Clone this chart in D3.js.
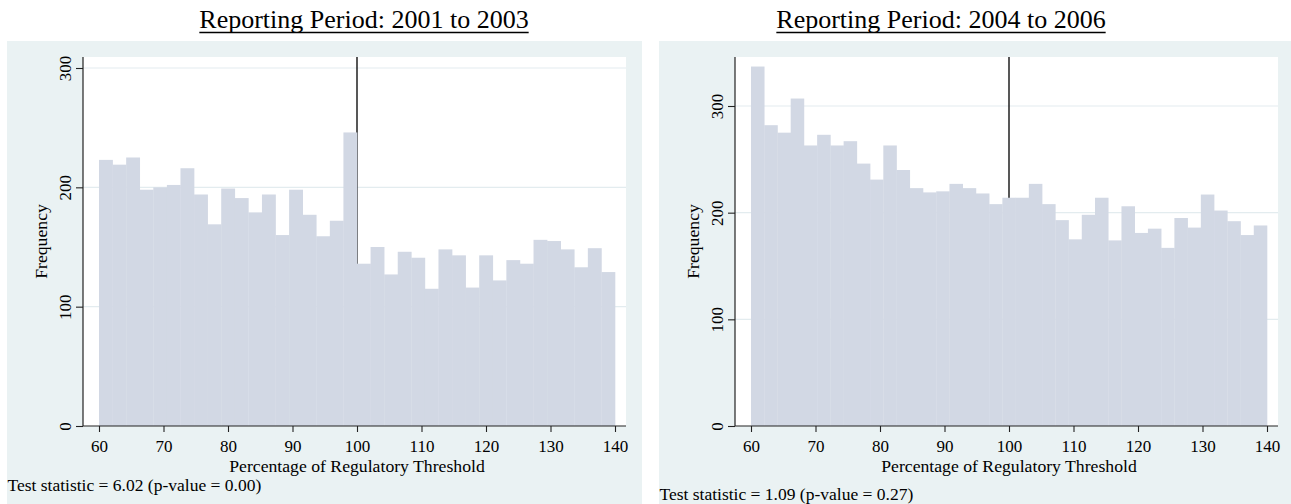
<!DOCTYPE html>
<html>
<head>
<meta charset="utf-8">
<script src="https://cdn.jsdelivr.net/npm/d3@7"></script>
<style>
  body { margin: 0; background: #fff; }
  text { font-family: "Liberation Serif", "Times New Roman", serif; fill: #000; }
</style>
</head>
<body>
<script>
// Width and height
var w = 1291;
var h = 504;

// histogram counts (38 bins / 39 bins over 60..140)
var counts0103 = [223, 219, 225, 198, 200, 202, 216, 194, 169, 199, 191, 179, 194, 160, 198, 177, 159, 172, 246,
                  136, 150, 127, 146, 141, 115, 148, 143, 116, 143, 122, 139, 136, 156, 155, 148, 133, 149, 129];
var counts0406 = [337, 282, 275, 307, 263, 273, 263, 267, 246, 231, 263, 240, 223, 219, 220, 227, 223, 218, 208,
                  214, 214, 227, 208, 193, 175, 198, 214, 174, 206, 181, 185, 167, 195, 186, 217, 202, 192, 179, 188];

var xTicks = [60, 70, 80, 90, 100, 110, 120, 130, 140];
var yTicks = [0, 100, 200, 300];
var threshold = 100;

var titles = ["Reporting Period: 2001 to 2003", "Reporting Period: 2004 to 2006"];
var notes = ["Test statistic = 6.02 (p-value = 0.00)", "Test statistic = 1.09 (p-value = 0.27)"];
var yLabel = "Frequency";
var xLabel = "Percentage of Regulatory Threshold";

var svg = d3.select("body")
            .append("svg")
            .attr("width", w)
            .attr("height", h);

function drawPanel(dx, counts, yTop300, title, titleX, note, noteY) {
    var g = svg.append("g").attr("transform", "translate(" + dx + ",0)");

    // graph region
    g.append("rect")
        .attr("x", 7).attr("y", 41)
        .attr("width", 635).attr("height", h - 41)
        .attr("fill", "#eaf2f3");

    // plot region
    var left = 83, right = 626, top = 57, bottom = 426;
    g.append("rect")
        .attr("x", left).attr("y", top)
        .attr("width", right - left).attr("height", bottom - top)
        .attr("fill", "#fff");

    var x = d3.scaleLinear().domain([60, 140]).range([99, 615]);
    var y = d3.scaleLinear().domain([0, 300]).range([bottom, yTop300]);

    // grid lines
    g.append("g").selectAll("line")
        .data(yTicks.filter(function(d) { return d > 0; }))
        .enter().append("line")
        .attr("x1", left).attr("x2", right)
        .attr("y1", function(d) { return y(d); })
        .attr("y2", function(d) { return y(d); })
        .attr("stroke", "#e3ecef")
        .attr("stroke-width", 1.2);

    // threshold line (bars sit on top of it)
    g.append("line")
        .attr("x1", x(threshold)).attr("x2", x(threshold))
        .attr("y1", top).attr("y2", bottom)
        .attr("stroke", "#111")
        .attr("stroke-width", 1.4);

    var bw = 80 / counts.length;
    g.append("g").selectAll("rect")
        .data(counts)
        .enter().append("rect")
        .attr("x", function(d, i) { return x(60 + i * bw); })
        .attr("width", function(d, i) { return x(60 + (i + 1) * bw) - x(60 + i * bw) + 0.3; })
        .attr("y", function(d) { return y(d); })
        .attr("height", function(d) { return y(0) - y(d); })
        .attr("fill", "#d2d8e4");

    // axes
    var xAxis = d3.axisBottom(x).tickValues(xTicks).tickSize(6).tickPadding(7.5);
    var xg = g.append("g").attr("transform", "translate(0," + bottom + ")").call(xAxis);
    xg.select(".domain").attr("d", "M" + left + ",0H" + right);
    var yAxis = d3.axisLeft(y).tickValues(yTicks).tickSize(7).tickPadding(5);
    var yg = g.append("g").attr("transform", "translate(" + left + ",0)").call(yAxis);
    yg.select(".domain").attr("d", "M0," + top + "V" + bottom);

    [xg, yg].forEach(function(a) {
        a.selectAll(".domain").attr("stroke", "#222").attr("stroke-width", 1.2);
        a.selectAll(".tick line").attr("stroke", "#222").attr("stroke-width", 1.1);
        a.selectAll("text").style("font-family", "Liberation Serif").style("font-size", "17px").attr("fill", "#000");
    });
    yg.selectAll(".tick text")
        .attr("x", null).attr("dy", null)
        .attr("text-anchor", "middle")
        .attr("transform", "translate(-12.5,0) rotate(-90)");

    // axis titles
    g.append("text")
        .attr("x", (99 + 615) / 2).attr("y", 471.5)
        .attr("text-anchor", "middle")
        .style("font-size", "17.7px")
        .text(xLabel);
    g.append("text")
        .attr("transform", "translate(47," + ((top + bottom) / 2) + ") rotate(-90)")
        .attr("text-anchor", "middle")
        .style("font-size", "17.7px")
        .text(yLabel);

    // note
    g.append("text")
        .attr("x", 7.5).attr("y", noteY)
        .style("font-size", "17.5px")
        .text(note);

    // title, underlined
    var t = svg.append("text")
        .attr("x", titleX).attr("y", 28.3)
        .attr("text-anchor", "middle")
        .style("font-size", "26px")
        .text(title);
    var bb = t.node().getBBox();
    svg.append("line")
        .attr("x1", bb.x).attr("x2", bb.x + bb.width)
        .attr("y1", 32.5).attr("y2", 32.5)
        .attr("stroke", "#000").attr("stroke-width", 1.4);
}

drawPanel(0, counts0103, 68, titles[0], 364, notes[0], 490.5);
drawPanel(652, counts0406, 106, titles[1], 941, notes[1], 500);
</script>
</body>
</html>
